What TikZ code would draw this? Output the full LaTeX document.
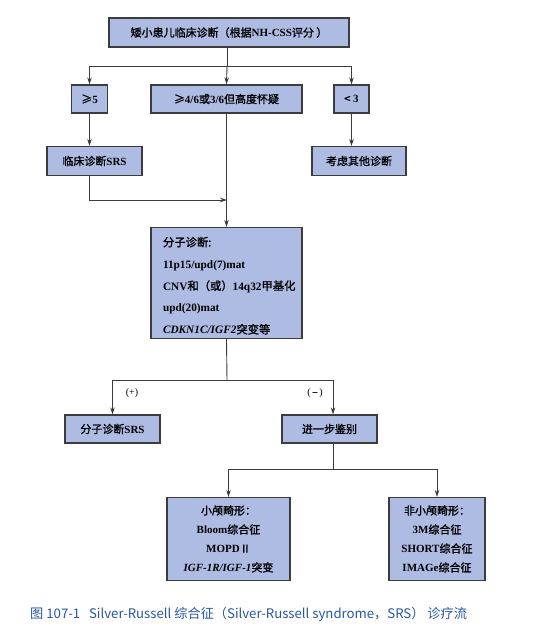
\documentclass[tikz,border=0pt]{standalone}
\usepackage{fontspec}
\setmainfont{Liberation Serif}
\newfontfamily\cjk{Noto Sans CJK SC}
\newfontfamily\cjkm[FakeBold=1.3]{Noto Sans CJK SC}
\usetikzlibrary{arrows.meta}
\newcommand\zh[1]{{\cjkm\mdseries #1}}
\definecolor{boxfill}{RGB}{174,187,226}
\definecolor{boxline}{RGB}{60,60,60}
\definecolor{conn}{RGB}{60,60,60}
\definecolor{capblue}{RGB}{40,85,165}
\begin{document}
\begin{tikzpicture}[x=1pt,y=-1pt,
  box/.style={draw=boxline,line width=1.2pt,fill=boxfill,inner sep=0pt,align=center,
              font=\fontsize{11}{13}\selectfont\bfseries},
  link/.style={draw=conn,line width=0.9pt},
  arr/.style={link,-{Stealth[length=7pt,width=4.5pt]}},
  lbl/.style={font=\fontsize{10}{12}\selectfont,inner sep=0pt}]
\useasboundingbox (0,0) rectangle (549,643);
% boxes
\node[box,minimum width=240,minimum height=29] (top) at (229,32.5)
  {\zh{矮小患儿临床诊断（根据}NH-CSS\zh{评分 ）}};
\node[box,minimum width=36,minimum height=28] (ge5) at (89.5,99) {\zh{≥}5};
\node[box,minimum width=151,minimum height=28] (mid) at (226.5,99)
  {\zh{≥}4/6\zh{或}3/6\zh{但高度怀疑}};
\node[box,minimum width=35,minimum height=28] (lt3) at (351.5,99) {\zh{<} 3};
\node[box,minimum width=95,minimum height=29] (srs1) at (94.5,161) {\zh{临床诊断}SRS};
\node[box,minimum width=94,minimum height=29] (other) at (359,161) {\zh{考虑其他诊断}};
\node[box,minimum width=151,minimum height=111,text width=127,inner xsep=12,align=left,
      font=\fontsize{11.3}{21.8}\selectfont\bfseries] (mol) at (226.5,283)
  {\rule{0pt}{15pt}\zh{分子诊断:}\\
   11p15/upd(7)mat\\
   CNV\zh{和（或）}14q32\zh{甲基化}\\
   upd(20)mat\\
   \textit{CDKN1C/IGF2}\zh{突变等}};
\node[box,minimum width=95,minimum height=28] (pos) at (112.5,429) {\zh{分子诊断}SRS};
\node[box,minimum width=95,minimum height=28] (neg) at (329.5,429) {\zh{进一步鉴别}};
\node[box,minimum width=123,minimum height=83,font=\fontsize{11}{19}\selectfont\bfseries]
  (micro) at (228.5,539)
  {\zh{小颅畸形：}\\Bloom\zh{综合征}\\MOPD\zh{Ⅱ}\\\textit{IGF-1R/IGF-1}\zh{突变}};
\node[box,minimum width=96,minimum height=83,font=\fontsize{11}{19}\selectfont\bfseries]
  (nonmicro) at (437,539)
  {\zh{非小颅畸形：}\\3M\zh{综合征}\\SHORT\zh{综合征}\\IMAGe\zh{综合征}};
% junctions
\coordinate (j1) at (227,66);
\coordinate (j2) at (227,200);
\coordinate (j3) at (227,380);
\coordinate (j4) at (333,469);
% connectors
\draw[link] (top.south -| j1) -- (j1);
\draw[arr] (j1) -| (ge5.north);
\draw[arr] (j1) -- (mid.north);
\draw[arr] (j1) -| (lt3.north);
\draw[arr] (ge5.south) -- (ge5.south |- srs1.north);
\draw[arr] (lt3.south) -- (lt3.south |- other.north);
\draw[arr] (srs1.south -| ge5.south) |- (j2);
\draw[arr] (mid.south) -- (mol.north);
\draw[link] (mol.south) -- (j3);
\draw[arr] (j3) -| (pos.north);
\draw[arr] (j3) -| (neg.north -| j4);
\draw[link] (neg.south -| j4) -- (j4);
\draw[arr] (j4) -| (micro.north);
\draw[arr] (j4) -| (nonmicro.north);
% labels
\node[lbl] (lplus) at (132,393) {(+)};
\node[lbl] (lminus) at (315,393) {(\,\zh{–}\,)};
% caption
\node[anchor=west,inner sep=0pt,text=capblue,font=\cjk\fontsize{13.2}{15}\selectfont] (cap) at (30,614)
  {图 107-1\ \ \ Silver-Russell 综合征（Silver-Russell syndrome，SRS）\ 诊疗流};
\end{tikzpicture}
\end{document}
